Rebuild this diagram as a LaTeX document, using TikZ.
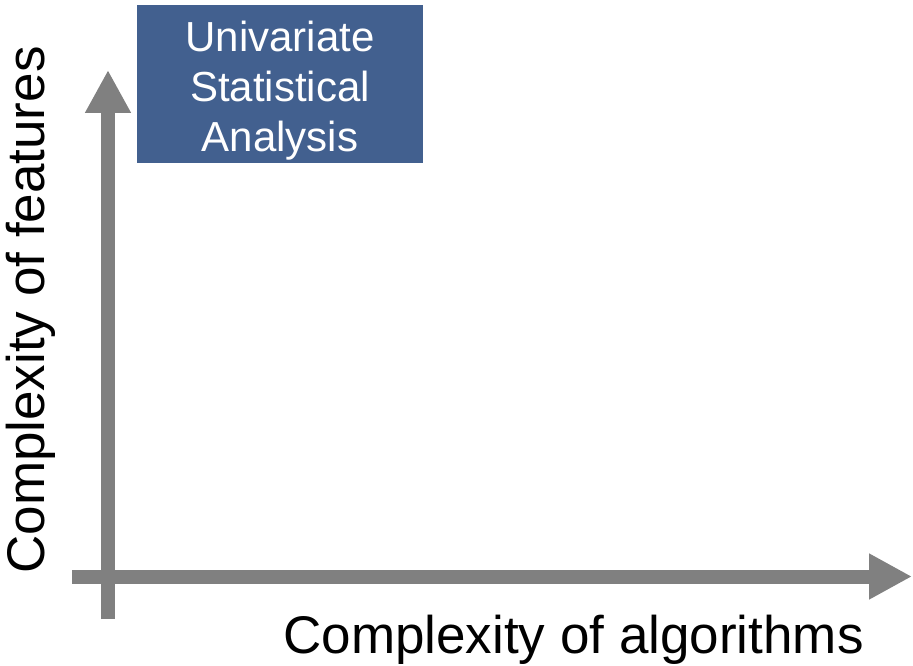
\documentclass[tikz,border=0pt]{standalone}
\usepackage{fontspec}
\setmainfont{Liberation Sans}
\usetikzlibrary{arrows.meta}
\definecolor{boxblue}{RGB}{66,96,143}
\definecolor{axisgray}{RGB}{128,128,128}
\begin{document}
\begin{tikzpicture}[x=0.75pt,y=-0.75pt,
  axis/.style={draw=axisgray,line width=10.5pt,-{Triangle[length=32.25pt,width=32.25pt]}},
  boxnode/.style={fill=boxblue,minimum width=214.5pt,minimum height=118.5pt,inner sep=0pt},
  boxtext/.style={text=white,inner sep=0pt,align=center,font=\fontsize{31.5}{37.5}\selectfont},
  axislabel/.style={font=\fontsize{39.75}{44}\selectfont,inner sep=0pt}]
\useasboundingbox (0,0) rectangle (913,666);
\coordinate (ybot) at (108,619);
\coordinate (ytop) at (108,70);
\coordinate (xleft) at (72,576.5);
\coordinate (xright) at (912,576.5);
\draw[axis] (ybot) -- (ytop);
\draw[axis] (xleft) -- (xright);
\node[boxnode] (uni) at (280,84) {};
\node[boxtext] (unitext) at ([yshift=-5pt]uni.center) {Univariate\\Statistical\\Analysis};
\node[axislabel] (xlab) at (573.5,640) {Complexity of algorithms};
\node[axislabel,rotate=90] (ylab) at (31,310) {Complexity of features};
\end{tikzpicture}
\end{document}
